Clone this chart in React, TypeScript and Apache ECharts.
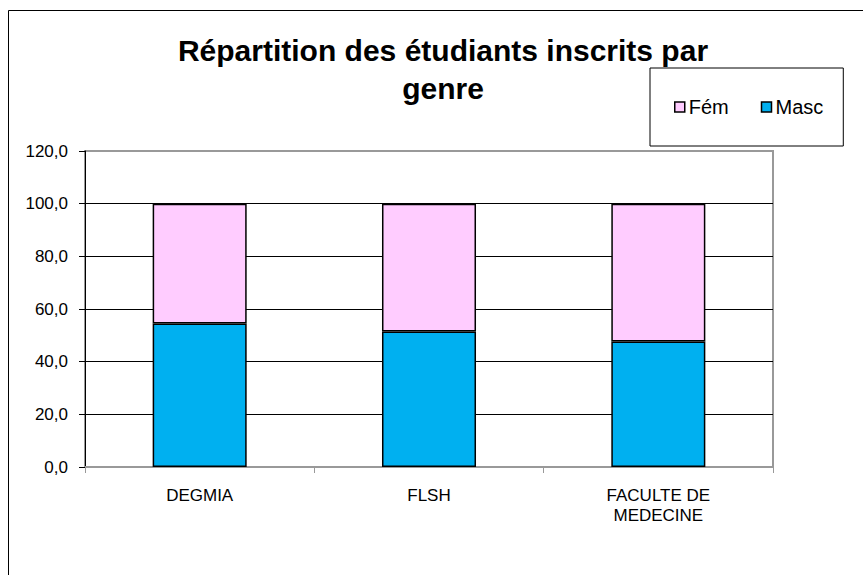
import React, { useEffect, useRef } from "react";
import * as echarts from "echarts";

const categories = ["DEGMIA", "FLSH", "FACULTE DE\nMEDECINE"];
const mascValues = [54.5, 51.5, 47.7];
const femValues = [45.5, 48.5, 52.3];
const seriesNames = ["Fém", "Masc"];

const FONT = 'Arial, "Liberation Sans", sans-serif';

export default function App() {
  const ref = useRef<HTMLDivElement>(null);
  useEffect(() => {
    if (!ref.current) return;
    const chart = echarts.init(ref.current, undefined, { renderer: "svg" });
    chart.setOption({
      animation: false,
      backgroundColor: "#fff",
      textStyle: { fontFamily: FONT },
      title: {
        text: "Répartition des étudiants inscrits par\ngenre",
        left: 438,
        textAlign: "center",
        top: 26,
        textStyle: {
          fontFamily: FONT,
          fontSize: 30,
          fontWeight: "bold",
          color: "#000",
          lineHeight: 38,
        },
      },
      graphic: [
        {
          type: "rect",
          shape: { x: 8.5, y: 10.5, width: 1000, height: 1000 },
          style: { fill: "none", stroke: "#000", lineWidth: 1 },
          silent: true,
        },
      ],
      legend: {
        data: seriesNames,
        left: 650,
        top: 68,
        orient: "horizontal",
        padding: [29, 20, 29, 24],
        itemGap: 32,
        itemWidth: 10,
        itemHeight: 10,
        icon: "rect",
        borderColor: "#000",
        borderWidth: 1,
        backgroundColor: "#fff",
        textStyle: { fontFamily: FONT, fontSize: 20, color: "#000", padding: [0, 0, 0, -1] },
        itemStyle: { borderColor: "#000", borderWidth: 1.5 },
      },
      grid: {
        left: 85,
        right: 90,
        top: 151,
        bottom: 108,
        show: true,
        borderColor: "#999",
        borderWidth: 2,
        backgroundColor: "transparent",
      },
      xAxis: {
        type: "category",
        data: categories,
        axisLine: { lineStyle: { color: "#999", width: 2 } },
        axisTick: { show: true, length: 6, lineStyle: { color: "#999" } },
        axisLabel: {
          fontFamily: FONT,
          fontSize: 17,
          color: "#000",
          margin: 18,
          lineHeight: 20,
        },
      },
      yAxis: {
        type: "value",
        min: 0,
        max: 120,
        interval: 20,
        axisLine: { show: true, lineStyle: { color: "#000", width: 1 } },
        axisTick: { show: true, length: 6, lineStyle: { color: "#000" } },
        axisLabel: {
          fontFamily: FONT,
          fontSize: 17,
          color: "#000",
          margin: 17,
          formatter: (v: number) => v.toFixed(1).replace(".", ","),
        },
        splitLine: {
          show: true,
          lineStyle: {
            color: ["#000", "#000", "#000", "#000", "#000", "#000", "#999"],
            width: 1,
          },
        },
      },
      series: [
        {
          name: "Masc",
          type: "bar",
          stack: "total",
          data: mascValues,
          barWidth: "41%",
          itemStyle: { color: "#00B0F0", borderColor: "#000", borderWidth: 1.5 },
        },
        {
          name: "Fém",
          type: "bar",
          stack: "total",
          data: femValues,
          barWidth: "41%",
          itemStyle: { color: "#FFCCFF", borderColor: "#000", borderWidth: 1.5 },
        },
      ],
    });
    return () => chart.dispose();
  }, []);
  return (
    <div
      ref={ref}
      style={{ position: "fixed", left: 0, top: 0, width: 863, height: 575 }}
    />
  );
}
